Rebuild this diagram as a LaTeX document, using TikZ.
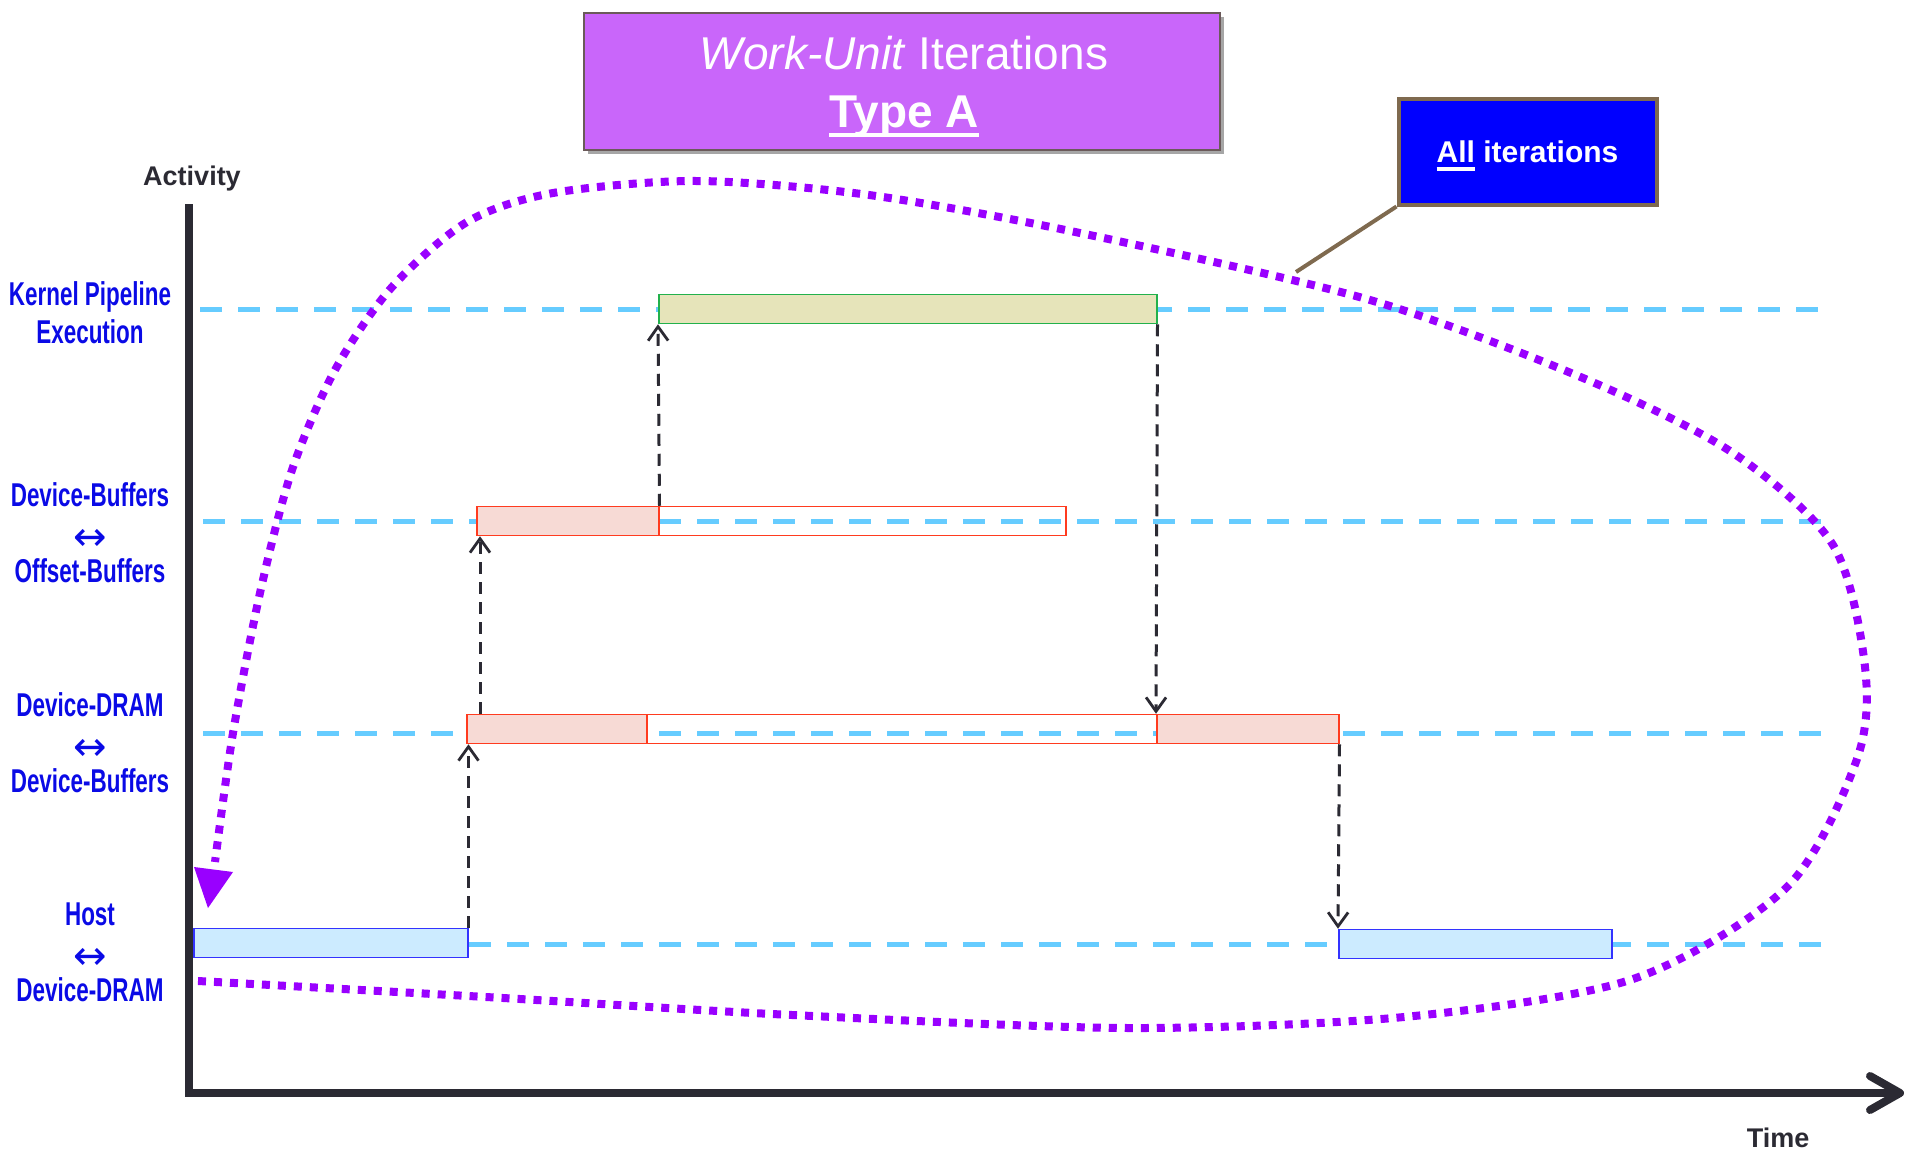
\documentclass[tikz,border=0pt]{standalone}
\usepackage{fontspec}
\setmainfont{Liberation Sans}
\newfontfamily\condfont[FakeStretch=0.68]{Liberation Sans}
\newfontfamily\arrowfont{DejaVu Sans}
\usetikzlibrary{arrows.meta,shadows}

\definecolor{axisink}{HTML}{2B2A33}
\definecolor{rowline}{HTML}{66CCFF}
\definecolor{loopviolet}{HTML}{9900FF}
\definecolor{titlefill}{HTML}{C966FA}
\definecolor{titleedge}{HTML}{6B5A5A}
\definecolor{calloutedge}{HTML}{7F6A4F}
\definecolor{kernfill}{HTML}{E6E4BA}
\definecolor{kernedge}{HTML}{22B14C}
\definecolor{xferfill}{HTML}{F7DAD5}
\definecolor{xferedge}{HTML}{FF3B1F}
\definecolor{hostfill}{HTML}{CCEBFF}
\definecolor{hostedge}{HTML}{3333FF}
\definecolor{labelblue}{HTML}{0A0AE6}

% underline drawn as a rule of given offset and thickness
\newcommand\ulbar[3]{\leavevmode\setbox0\hbox{#1}\rlap{\rule[#2]{\wd0}{#3}}\box0\relax}
% two-headed arrow between lane names
\newcommand\lanearrow{\raisebox{-6pt}{\arrowfont\mdseries\fontsize{40}{38}\selectfont ↔}}

\tikzset{
  axisline/.style={draw=axisink, line width=8pt},
  rowguide/.style={draw=rowline, line width=5pt, dash pattern=on 22pt off 16pt},
  bar/.style={line width=1.5pt, minimum height=29pt, inner sep=0pt, anchor=west},
  kernbar/.style={bar, draw=kernedge, fill=kernfill},
  xferbar/.style={bar, draw=xferedge, fill=xferfill},
  xferopen/.style={bar, draw=xferedge},
  hostbar/.style={bar, draw=hostedge, fill=hostfill},
  flow/.style={draw=axisink, line width=3pt, dash pattern=on 12pt off 8pt,
    -{Straight Barb[length=14pt, width=20pt, line width=2.8pt]}},
  rowlabel/.style={text=labelblue, align=center, inner sep=0pt,
    font=\condfont\bfseries\fontsize{33}{38}\selectfont},
  loopline/.style={draw=loopviolet, line width=8pt, dash pattern=on 8pt off 8pt},
}

\begin{document}
\begin{tikzpicture}[x=1pt, y=-1pt]
\useasboundingbox (0,0) rectangle (1907,1151);

% lane guides
\draw[rowguide] (200,309) -- (1821,309);
\draw[rowguide] (203,521) -- (1821,521);
\draw[rowguide] (203,733) -- (1821,733);
\draw[rowguide] (203,944) -- (1821,944);

% axes
\draw[axisline, line join=miter] (189,204) -- (189,1093) -- (1898,1093);
\draw[axisline, line cap=round, line join=round] (1870,1076) -- (1900,1093) -- (1870,1110);
\node[font=\bfseries\fontsize{27}{30}\selectfont, text=axisink, anchor=base] (yname) at (192,185) {Activity};
\node[font=\bfseries\fontsize{27}{30}\selectfont, text=axisink, anchor=base] (xname) at (1778,1147) {Time};

% activity bars
\node[kernbar, minimum width=498pt] (kern) at (658,309) {};
\node[xferbar, minimum width=182pt] (buf1) at (476,521) {};
\node[xferopen, minimum width=407pt] (buf2) at (658,521) {};
\node[xferbar, minimum width=180pt] (dram1) at (466,729) {};
\node[xferopen, minimum width=510pt] (dram2) at (646,729) {};
\node[xferbar, minimum width=182pt] (dram3) at (1156,729) {};
\node[hostbar, minimum width=274pt] (host1) at (193,943) {};
\node[hostbar, minimum width=273pt] (host2) at (1338,944) {};

% hand-offs between lanes
\coordinate (b1in) at ([xshift=4pt]buf1.south west);
\draw[flow] (host1.north east) -- (host1.north east |- dram1.south);
\draw[flow] (b1in |- dram1.north) -- (b1in);
\draw[flow] (buf1.north east) -- (kern.south west);
\draw[flow] (kern.south east) -- (dram3.north west);
\draw[flow] (dram3.south east) -- (host2.north west);

% iteration loop
\draw[loopline] plot[smooth, tension=0.5] coordinates {
  (198,981) (486,997) (792,1015) (1129,1028) (1404,1017) (1633,979)
  (1787,887) (1857,759) (1865,667) (1833,545) (1733,453) (1583,378)
  (1370,300) (1080,233) (869,195) (697,181) (553,193) (467,222)
  (392,287) (335,370) (292,470) (260,593) (233,733) (215,862)};
\fill[loopviolet] (194,867) -- (233,872) -- (208,908) -- cycle;

% lane names
\node[rowlabel] (lkern) at (90,313) {Kernel Pipeline\\Execution};
\node[rowlabel] (lbuf) at (90,533) {Device-Buffers\\\lanearrow\\Offset-Buffers};
\node[rowlabel] (ldram) at (90,743) {Device-DRAM\\\lanearrow\\Device-Buffers};
\node[rowlabel] (lhost) at (90,952) {Host\\\lanearrow\\Device-DRAM};

% title
\node[draw=titleedge, line width=1.5pt, fill=titlefill, minimum width=636pt, minimum height=137pt,
      drop shadow={shadow xshift=4pt, shadow yshift=-4pt, opacity=0.7}] (titlebox) at (902,81.5) {};
\node[text=white, align=center, inner sep=0pt, font=\fontsize{46}{58}\selectfont] (titletext) at (904,87)
  {\textit{Work-Unit} Iterations\\\textbf{\ulbar{Type A}{-9pt}{4pt}}};

% callout
\node[draw=calloutedge, line width=4pt, fill=blue, minimum width=258pt, minimum height=106pt,
      text=white, font=\bfseries\fontsize{30}{34}\selectfont, text height=22pt, text depth=0pt] (allit) at (1527.5,151.5)
  {\ulbar{All}{-8pt}{3.5pt} iterations};
\coordinate (calltip) at (1296,272);
\draw[draw=calloutedge, line width=4pt] (allit.south west) -- (calltip);
\end{tikzpicture}
\end{document}
